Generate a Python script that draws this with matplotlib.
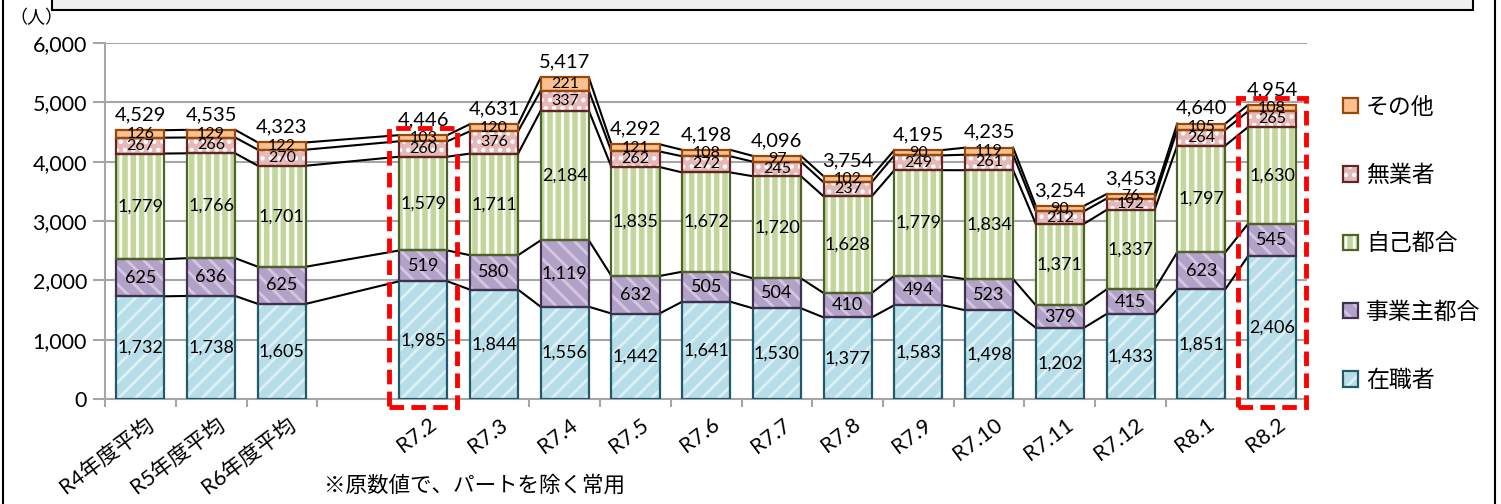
import matplotlib
matplotlib.use('Agg')
from matplotlib import pyplot as plt
from matplotlib.patches import Rectangle, Patch
from matplotlib.lines import Line2D
from matplotlib.transforms import ScaledTranslation
import numpy as np

plt.rcParams['font.family'] = ['Lato', 'Noto Sans CJK JP', 'DejaVu Sans']
plt.rcParams['hatch.linewidth'] = 2.0

# categories (blank slot between R6 and R7.2)
labels = ['R4年度平均', 'R5年度平均', 'R6年度平均', '', 'R7.2', 'R7.3', 'R7.4', 'R7.5',
          'R7.6', 'R7.7', 'R7.8', 'R7.9', 'R7.10', 'R7.11', 'R7.12', 'R8.1', 'R8.2']
pos = [0, 1, 2, 4, 5, 6, 7, 8, 9, 10, 11, 12, 13, 14, 15, 16]

zaishoku = [1732, 1738, 1605, 1985, 1844, 1556, 1442, 1641, 1530, 1377, 1583, 1498, 1202, 1433, 1851, 2406]
jigyonushi = [625, 636, 625, 519, 580, 1119, 632, 505, 504, 410, 494, 523, 379, 415, 623, 545]
jiko = [1779, 1766, 1701, 1579, 1711, 2184, 1835, 1672, 1720, 1628, 1779, 1834, 1371, 1337, 1797, 1630]
mugyo = [267, 266, 270, 260, 376, 337, 262, 272, 245, 237, 249, 261, 212, 192, 264, 265]
sonota = [126, 129, 122, 103, 120, 221, 121, 108, 97, 102, 90, 119, 90, 76, 105, 108]

# name, values, fill, edge, hatch, hatch colour
series = [
    ('在職者', zaishoku, '#b7dee8', '#215a69', '//', '#dcf0f5'),
    ('事業主都合', jigyonushi, '#b3a2c7', '#3f3151', '\\\\', '#d3c8e0'),
    ('自己都合', jiko, '#c3d69b', '#4f6228', '||', 'white'),
    ('無業者', mugyo, '#e6b9b8', '#632523', '..', 'white'),
    ('その他', sonota, '#fac090', '#984807', None, None),
]

fig = plt.figure(figsize=(15.01, 5.04), dpi=100)
ax = fig.add_axes([0.070, 0.208, 0.801, 0.707])

w = 0.68
x = np.array(pos)
bottom = np.zeros(len(pos))
levels = []
handles = []
for name, vals, fc, ec, h, hc in series:
    vals = np.array(vals)
    if h:
        ax.bar(x, vals, w, bottom=bottom, color=fc, edgecolor=hc, hatch=h, linewidth=0, zorder=3)
    else:
        ax.bar(x, vals, w, bottom=bottom, color=fc, linewidth=0, zorder=3)
    ax.bar(x, vals, w, bottom=bottom, fill=False, edgecolor=ec, linewidth=1.6, zorder=4)
    small = name in ('無業者', 'その他')
    for xi, b, v in zip(x, bottom, vals):
        ax.text(xi, b + v / 2, f'{v:,}', ha='center', va='center',
                fontsize=11.5 if small else 13, zorder=6)
    bottom = bottom + vals
    levels.append(bottom.copy())
    hp = Patch(facecolor=fc, edgecolor=hc if hc else fc, hatch=h, linewidth=0)
    op = Patch(facecolor='none', edgecolor=ec, linewidth=1.6)
    handles.append(((hp, op), name))

# series lines between bars
for lev in levels:
    for i in range(len(x) - 1):
        ax.plot([x[i] + w / 2, x[i + 1] - w / 2], [lev[i], lev[i + 1]],
                color='black', lw=1.5, zorder=2)

# totals
for xi, t in zip(x, bottom):
    ax.annotate(f'{int(t):,}', (xi, t), xytext=(0, 5), textcoords='offset points',
                ha='center', va='bottom', fontsize=14.5, zorder=6)

# red dashed highlight boxes
for k in (3, 15):
    xi = x[k]
    top = bottom[k] + 120
    r = Rectangle((xi - 0.48, -135), 0.96, top + 135, fill=False, edgecolor='#ff0000',
                  lw=3.5, ls=(0, (3, 1.5)), zorder=7, clip_on=False)
    ax.add_patch(r)

ax.set_xlim(-0.5, 16.5)
ax.set_ylim(0, 6000)
ax.set_yticks(np.arange(0, 6001, 1000))
ax.set_yticklabels([f'{v:,}' for v in range(0, 6001, 1000)], fontsize=15.5)
ax.grid(axis='y', color='#a6a6a6', lw=1.5, zorder=0)
ax.tick_params(axis='y', length=9, width=1.5, color='#a6a6a6', pad=4)

ax.set_xticks(np.arange(17))
ax.set_xticklabels(labels, rotation=37, ha='right', rotation_mode='anchor', fontsize=15.5)
ax.tick_params(axis='x', which='major', length=0, pad=11)
shift = ScaledTranslation(5 / 100, 0, fig.dpi_scale_trans)
for t in ax.get_xticklabels():
    t.set_transform(t.get_transform() + shift)
ax.set_xticks(np.arange(-0.5, 17, 1), minor=True)
ax.tick_params(axis='x', which='minor', length=6, width=1.5, color='#a6a6a6')

for s in ('top', 'right'):
    ax.spines[s].set_visible(False)
ax.spines['left'].set_color('#a6a6a6')
ax.spines['bottom'].set_color('#a6a6a6')
ax.spines['left'].set_linewidth(1.5)
ax.spines['bottom'].set_linewidth(1.5)

leg = ax.legend([hh for hh, _ in handles[::-1]], [n for _, n in handles[::-1]],
                loc='upper left', bbox_to_anchor=(1.022, 0.875), frameon=False,
                fontsize=16.5, labelspacing=2.05, handlelength=0.65, handleheight=0.65,
                handletextpad=0.35, borderaxespad=0)

fig.text(0.006, 0.965, '（人）', fontsize=13, ha='left', va='center')
fig.text(0.316, 0.036, '※原数値で、パートを除く常用', fontsize=15.5, ha='center', va='center')

# frame pieces
fig.add_artist(Rectangle((0.0346, 0.980), 0.947, 0.05, transform=fig.transFigure,
                         facecolor='#f0f0f0', edgecolor='black', lw=1.5))
fig.add_artist(Line2D([0.002, 0.002], [0, 1], transform=fig.transFigure, color='black', lw=1.5))
fig.add_artist(Line2D([0.9963, 0.9963], [0, 1], transform=fig.transFigure, color='black', lw=1.5))

fig.savefig('out.png', dpi=100)
